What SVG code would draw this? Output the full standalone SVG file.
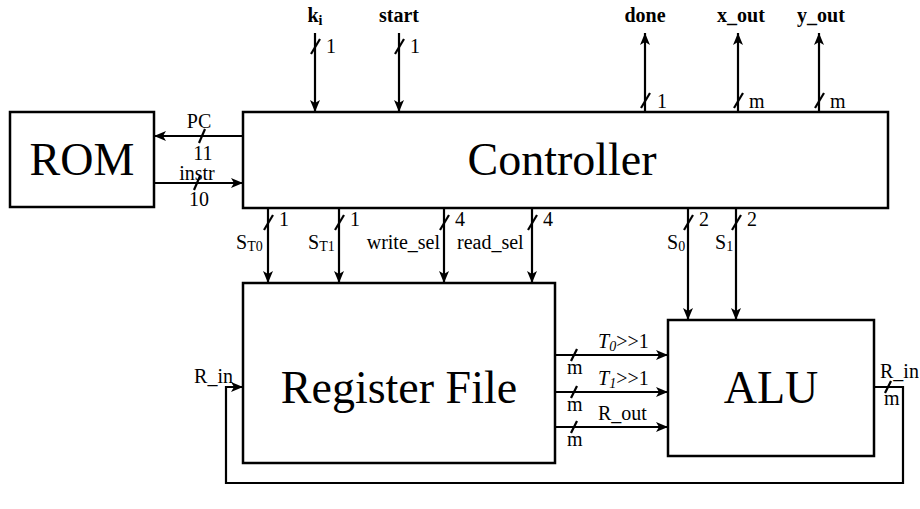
<svg xmlns="http://www.w3.org/2000/svg" width="920" height="509" viewBox="0 0 920 509">
<style>
.box{fill:#fff;stroke:#000;stroke-width:2.5}
.big{font-family:"Liberation Serif",serif;font-size:46px;text-anchor:middle;fill:#000}
.lbl{font-family:"Liberation Serif",serif;font-size:20px;fill:#000}
.b{font-weight:bold;text-anchor:middle}
.w{fill:none;stroke:#000;stroke-width:2.2}
.sl{stroke:#000;stroke-width:2.2}
.sub{font-size:14px}
</style>
<defs>
<marker id="ah" markerUnits="userSpaceOnUse" markerWidth="13" markerHeight="10" refX="12" refY="5" orient="auto">
<path d="M0,0 L12,5 L0,10 L3,5 z" fill="#000"/>
</marker>
</defs>
<g id="rom"><rect class="box" x="10" y="112" width="144" height="95"/><text class="big" x="82" y="175">ROM</text></g>
<g id="controller"><rect class="box" x="243" y="112" width="645" height="96"/><text class="big" x="562" y="175">Controller</text></g>
<g id="regfile"><rect class="box" x="243" y="283" width="312" height="180"/><text class="big" x="399" y="403">Register File</text></g>
<g id="alu"><rect class="box" x="668" y="320" width="206" height="136"/><text class="big" x="771" y="403">ALU</text></g>
<g id="connectors">
<line class="w" x1="315" y1="33" x2="315" y2="112" marker-end="url(#ah)"/>
<line class="w" x1="399" y1="33" x2="399" y2="112" marker-end="url(#ah)"/>
<line class="w" x1="645" y1="112" x2="645" y2="33" marker-end="url(#ah)"/>
<line class="w" x1="738" y1="112" x2="738" y2="33" marker-end="url(#ah)"/>
<line class="w" x1="819" y1="112" x2="819" y2="33" marker-end="url(#ah)"/>
<line class="w" x1="243" y1="136" x2="154" y2="136" marker-end="url(#ah)"/>
<line class="w" x1="154" y1="183" x2="243" y2="183" marker-end="url(#ah)"/>
<line class="w" x1="268" y1="208" x2="268" y2="283" marker-end="url(#ah)"/>
<line class="w" x1="339" y1="208" x2="339" y2="283" marker-end="url(#ah)"/>
<line class="w" x1="444" y1="208" x2="444" y2="283" marker-end="url(#ah)"/>
<line class="w" x1="532" y1="208" x2="532" y2="283" marker-end="url(#ah)"/>
<line class="w" x1="688" y1="208" x2="688" y2="320" marker-end="url(#ah)"/>
<line class="w" x1="736" y1="208" x2="736" y2="320" marker-end="url(#ah)"/>
<line class="w" x1="555" y1="355" x2="668" y2="355" marker-end="url(#ah)"/>
<line class="w" x1="555" y1="392" x2="668" y2="392" marker-end="url(#ah)"/>
<line class="w" x1="555" y1="427" x2="668" y2="427" marker-end="url(#ah)"/>
<polyline class="w" points="874,387 903,387 903,483 226,483 226,387 243,387" marker-end="url(#ah)"/>
<g id="slashes">
<line class="sl" x1="311" y1="54" x2="320" y2="39"/>
<line class="sl" x1="395" y1="54" x2="404" y2="39"/>
<line class="sl" x1="641" y1="108" x2="650" y2="93"/>
<line class="sl" x1="734" y1="108" x2="743" y2="93"/>
<line class="sl" x1="815" y1="108" x2="824" y2="93"/>
<line class="sl" x1="199" y1="143" x2="205" y2="129"/>
<line class="sl" x1="194" y1="190" x2="200" y2="176"/>
<line class="sl" x1="264" y1="230" x2="273" y2="215"/>
<line class="sl" x1="335" y1="230" x2="344" y2="215"/>
<line class="sl" x1="440" y1="230" x2="449" y2="215"/>
<line class="sl" x1="528" y1="230" x2="537" y2="215"/>
<line class="sl" x1="684" y1="230" x2="693" y2="215"/>
<line class="sl" x1="732" y1="230" x2="741" y2="215"/>
<line class="sl" x1="571" y1="361" x2="577" y2="349"/>
<line class="sl" x1="571" y1="398" x2="577" y2="386"/>
<line class="sl" x1="571" y1="433" x2="577" y2="421"/>
<line class="sl" x1="885" y1="393" x2="891" y2="381"/>
</g>
</g>
<g id="labels">
<text class="lbl b" x="315" y="22">k<tspan class="sub" dy="3">i</tspan></text>
<text class="lbl b" x="399" y="22">start</text>
<text class="lbl b" x="645" y="22">done</text>
<text class="lbl b" x="741" y="22">x_out</text>
<text class="lbl b" x="821" y="22">y_out</text>
<text class="lbl" x="326" y="53">1</text>
<text class="lbl" x="410" y="53">1</text>
<text class="lbl" x="657" y="108">1</text>
<text class="lbl" x="749" y="108">m</text>
<text class="lbl" x="830" y="108">m</text>
<text class="lbl" x="199" y="128" text-anchor="middle">PC</text>
<text class="lbl" x="203" y="160" text-anchor="middle">11</text>
<text class="lbl" x="197" y="180" text-anchor="middle">instr</text>
<text class="lbl" x="199" y="206" text-anchor="middle">10</text>
<text class="lbl" x="279" y="226">1</text>
<text class="lbl" x="350" y="226">1</text>
<text class="lbl" x="455" y="226">4</text>
<text class="lbl" x="543" y="226">4</text>
<text class="lbl" x="699" y="226">2</text>
<text class="lbl" x="747" y="226">2</text>
<text class="lbl" x="236" y="249">S<tspan class="sub" dy="2">T0</tspan></text>
<text class="lbl" x="308" y="249">S<tspan class="sub" dy="2">T1</tspan></text>
<text class="lbl" x="440" y="249" text-anchor="end">write_sel</text>
<text class="lbl" x="457" y="249">read_sel</text>
<text class="lbl" x="667" y="249">S<tspan class="sub" dy="2">0</tspan></text>
<text class="lbl" x="715" y="249">S<tspan class="sub" dy="2">1</tspan></text>
<text class="lbl" x="598" y="348"><tspan font-style="italic">T</tspan><tspan class="sub" font-style="italic" dy="3">0</tspan><tspan dy="-3">&gt;&gt;1</tspan></text>
<text class="lbl" x="598" y="385"><tspan font-style="italic">T</tspan><tspan class="sub" font-style="italic" dy="3">1</tspan><tspan dy="-3">&gt;&gt;1</tspan></text>
<text class="lbl" x="598" y="420">R_out</text>
<text class="lbl" x="567" y="374">m</text>
<text class="lbl" x="567" y="411">m</text>
<text class="lbl" x="567" y="446">m</text>
<text class="lbl" x="233" y="383" text-anchor="end">R_in</text>
<text class="lbl" x="880" y="378">R_in</text>
<text class="lbl" x="884" y="405">m</text>
</g>
</svg>
